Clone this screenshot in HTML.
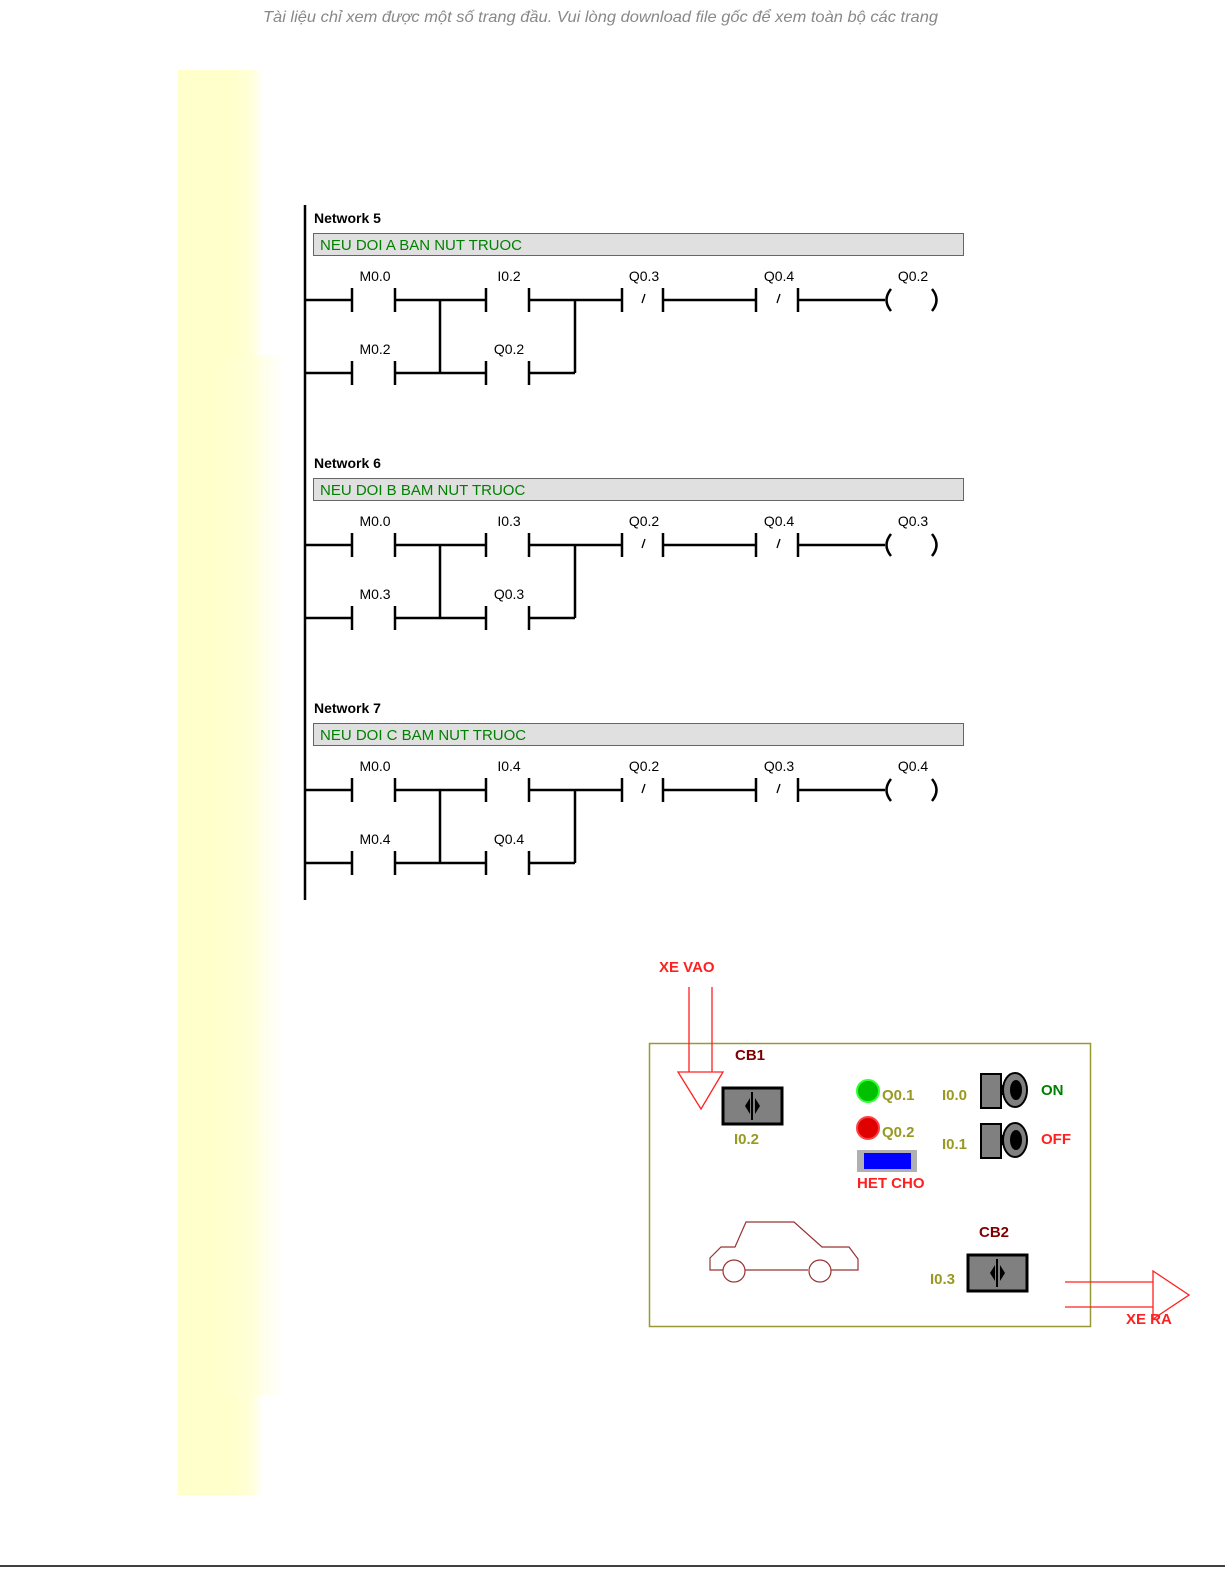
<!DOCTYPE html>
<html><head><meta charset="utf-8"><style>
html,body{margin:0;padding:0;background:#fff;width:1225px;height:1585px;overflow:hidden}
svg{display:block}
</style></head><body>
<svg width="1225" height="1585" viewBox="0 0 1225 1585" xmlns="http://www.w3.org/2000/svg">
<defs>
<linearGradient id="yg" x1="0" x2="1" y1="0" y2="0">
<stop offset="0" stop-color="#ffffcc"/><stop offset="0.6" stop-color="#ffffd8"/><stop offset="1" stop-color="#ffffff"/>
</linearGradient>
<g id="net">
<line x1="305" y1="300" x2="352" y2="300"/><line x1="352" y1="288" x2="352" y2="312"/>
<line x1="395" y1="288" x2="395" y2="312"/><line x1="395" y1="300" x2="486" y2="300"/>
<line x1="486" y1="288" x2="486" y2="312"/><line x1="529" y1="288" x2="529" y2="312"/>
<line x1="529" y1="300" x2="622" y2="300"/><line x1="622" y1="288" x2="622" y2="312"/>
<line x1="663" y1="288" x2="663" y2="312"/><line x1="663" y1="300" x2="756" y2="300"/>
<line x1="756" y1="288" x2="756" y2="312"/><line x1="798" y1="288" x2="798" y2="312"/>
<line x1="798" y1="300" x2="885" y2="300"/>
<line x1="645" y1="294" x2="642" y2="303" stroke-width="1.3"/>
<line x1="780" y1="294" x2="777" y2="303" stroke-width="1.3"/>
<path d="M891,289 Q882,300 891,311" fill="none"/>
<path d="M932,289 Q941,300 932,311" fill="none"/>
<line x1="305" y1="373" x2="352" y2="373"/><line x1="352" y1="361" x2="352" y2="385"/>
<line x1="395" y1="361" x2="395" y2="385"/><line x1="395" y1="373" x2="486" y2="373"/>
<line x1="486" y1="361" x2="486" y2="385"/><line x1="529" y1="361" x2="529" y2="385"/>
<line x1="529" y1="373" x2="575" y2="373"/>
<line x1="440" y1="300" x2="440" y2="373"/><line x1="575" y1="300" x2="575" y2="373"/>
</g>
</defs>
<text x="263" y="22" textLength="675" lengthAdjust="spacingAndGlyphs" font-family="Liberation Sans,sans-serif" font-size="16" font-style="italic" fill="#888">Tài liệu chỉ xem được một số trang đầu. Vui lòng download file gốc để xem toàn bộ các trang</text>
<rect x="178" y="70" width="55" height="1425" fill="#ffffcc"/>
<rect x="233" y="70" width="30" height="1425" fill="url(#yg)"/>
<rect x="212" y="355" width="72" height="1040" fill="url(#yg)" opacity="0.7"/>
<line x1="0" y1="1566" x2="1225" y2="1566" stroke="#000" stroke-width="1.5"/>

<line x1="305" y1="205" x2="305" y2="900" stroke="#000" stroke-width="2.5"/>

<g stroke="#000" stroke-width="2.5" fill="none"><use href="#net"/><use href="#net" y="245"/><use href="#net" y="490"/></g>

<g font-family="Liberation Sans,sans-serif">
<text x="314" y="223" font-size="14" font-weight="bold">Network 5</text>
<text x="314" y="468" font-size="14" font-weight="bold">Network 6</text>
<text x="314" y="713" font-size="14" font-weight="bold">Network 7</text>
<rect x="313.5" y="233.5" width="650" height="22" fill="#e0e0e0" stroke="#666"/>
<rect x="313.5" y="478.5" width="650" height="22" fill="#e0e0e0" stroke="#666"/>
<rect x="313.5" y="723.5" width="650" height="22" fill="#e0e0e0" stroke="#666"/>
<g fill="#008000" font-size="15"><text x="320" y="250">NEU DOI A BAN NUT TRUOC</text><text x="320" y="495">NEU DOI B BAM NUT TRUOC</text><text x="320" y="740">NEU DOI C BAM NUT TRUOC</text></g>
<g font-size="14" text-anchor="middle">
<text x="375" y="281">M0.0</text><text x="509" y="281">I0.2</text><text x="644" y="281">Q0.3</text><text x="779" y="281">Q0.4</text><text x="913" y="281">Q0.2</text>
<text x="375" y="354">M0.2</text><text x="509" y="354">Q0.2</text>
<text x="375" y="526">M0.0</text><text x="509" y="526">I0.3</text><text x="644" y="526">Q0.2</text><text x="779" y="526">Q0.4</text><text x="913" y="526">Q0.3</text>
<text x="375" y="599">M0.3</text><text x="509" y="599">Q0.3</text>
<text x="375" y="771">M0.0</text><text x="509" y="771">I0.4</text><text x="644" y="771">Q0.2</text><text x="779" y="771">Q0.3</text><text x="913" y="771">Q0.4</text>
<text x="375" y="844">M0.4</text><text x="509" y="844">Q0.4</text>
</g>
</g>

<rect x="649.5" y="1043.5" width="441" height="283" fill="none" stroke="#999933" stroke-width="1.5"/>
<g stroke="#ff2020" stroke-width="1.3" fill="none">
<line x1="689" y1="987" x2="689" y2="1072"/><line x1="712" y1="987" x2="712" y2="1072"/>
<polygon points="678,1072 723,1072 701,1109" fill="#fff"/>
<line x1="1065" y1="1282" x2="1153" y2="1282"/><line x1="1065" y1="1307" x2="1153" y2="1307"/>
<polygon points="1153,1271 1153,1319 1189,1295" fill="#fff"/>
</g>
<g font-family="Liberation Sans,sans-serif" font-weight="bold" font-size="15">
<text x="659" y="972" fill="#ff2020">XE VAO</text>
<text x="1126" y="1324" fill="#ff2020">XE RA</text>
<text x="735" y="1060" fill="#800000">CB1</text>
<text x="979" y="1237" fill="#800000">CB2</text>
<text x="734" y="1144" fill="#999922">I0.2</text>
<text x="930" y="1284" fill="#999922">I0.3</text>
<text x="882" y="1100" fill="#999922">Q0.1</text>
<text x="882" y="1137" fill="#999922">Q0.2</text>
<text x="942" y="1100" fill="#999922">I0.0</text>
<text x="942" y="1149" fill="#999922">I0.1</text>
<text x="1041" y="1095" fill="#008000">ON</text>
<text x="1041" y="1144" fill="#ff2020">OFF</text>
<text x="857" y="1188" fill="#ff2020">HET CHO</text>
</g>
<g>
<rect x="723" y="1088" width="59" height="36" fill="#808080" stroke="#000" stroke-width="3"/>
<path d="M745,1106 l5,-8 v16 z M760,1106 l-5,-8 v16 z" fill="#000"/>
<line x1="752" y1="1092" x2="752" y2="1120" stroke="#000" stroke-width="2"/>
<rect x="968" y="1255" width="59" height="36" fill="#808080" stroke="#000" stroke-width="3"/>
<path d="M990,1273 l5,-8 v16 z M1005,1273 l-5,-8 v16 z" fill="#000"/>
<line x1="997" y1="1259" x2="997" y2="1287" stroke="#000" stroke-width="2"/>
</g>
<circle cx="868" cy="1091" r="11" fill="#00c000" stroke="#30ff30" stroke-width="2"/>
<circle cx="868" cy="1128" r="11" fill="#e00000" stroke="#ff4040" stroke-width="2"/>
<rect x="857" y="1150" width="60" height="22" fill="#b0b0b0"/>
<rect x="864" y="1153" width="47" height="16" fill="#0000ff"/>
<g fill="#808080" stroke="#000" stroke-width="2">
<rect x="981" y="1074" width="20" height="34"/><rect x="1001" y="1086" width="6" height="8" fill="#000"/>
<ellipse cx="1015" cy="1090" rx="12" ry="17"/><ellipse cx="1016" cy="1090" rx="5" ry="9" fill="#000"/>
<rect x="981" y="1124" width="20" height="34"/><rect x="1001" y="1136" width="6" height="8" fill="#000"/>
<ellipse cx="1015" cy="1140" rx="12" ry="17"/><ellipse cx="1016" cy="1140" rx="5" ry="9" fill="#000"/>
</g>
<g fill="none" stroke="#993333" stroke-width="1.2">
<path d="M723,1270 L710,1270 L710,1258 L721,1247 L735,1247 L746,1222 L794,1222 L822,1247 L849,1247 L858,1259 L858,1270 L831,1270 M808,1270 L745,1270"/>
<circle cx="734" cy="1271" r="11"/><circle cx="820" cy="1271" r="11"/>
</g>
</svg>
</body></html>
